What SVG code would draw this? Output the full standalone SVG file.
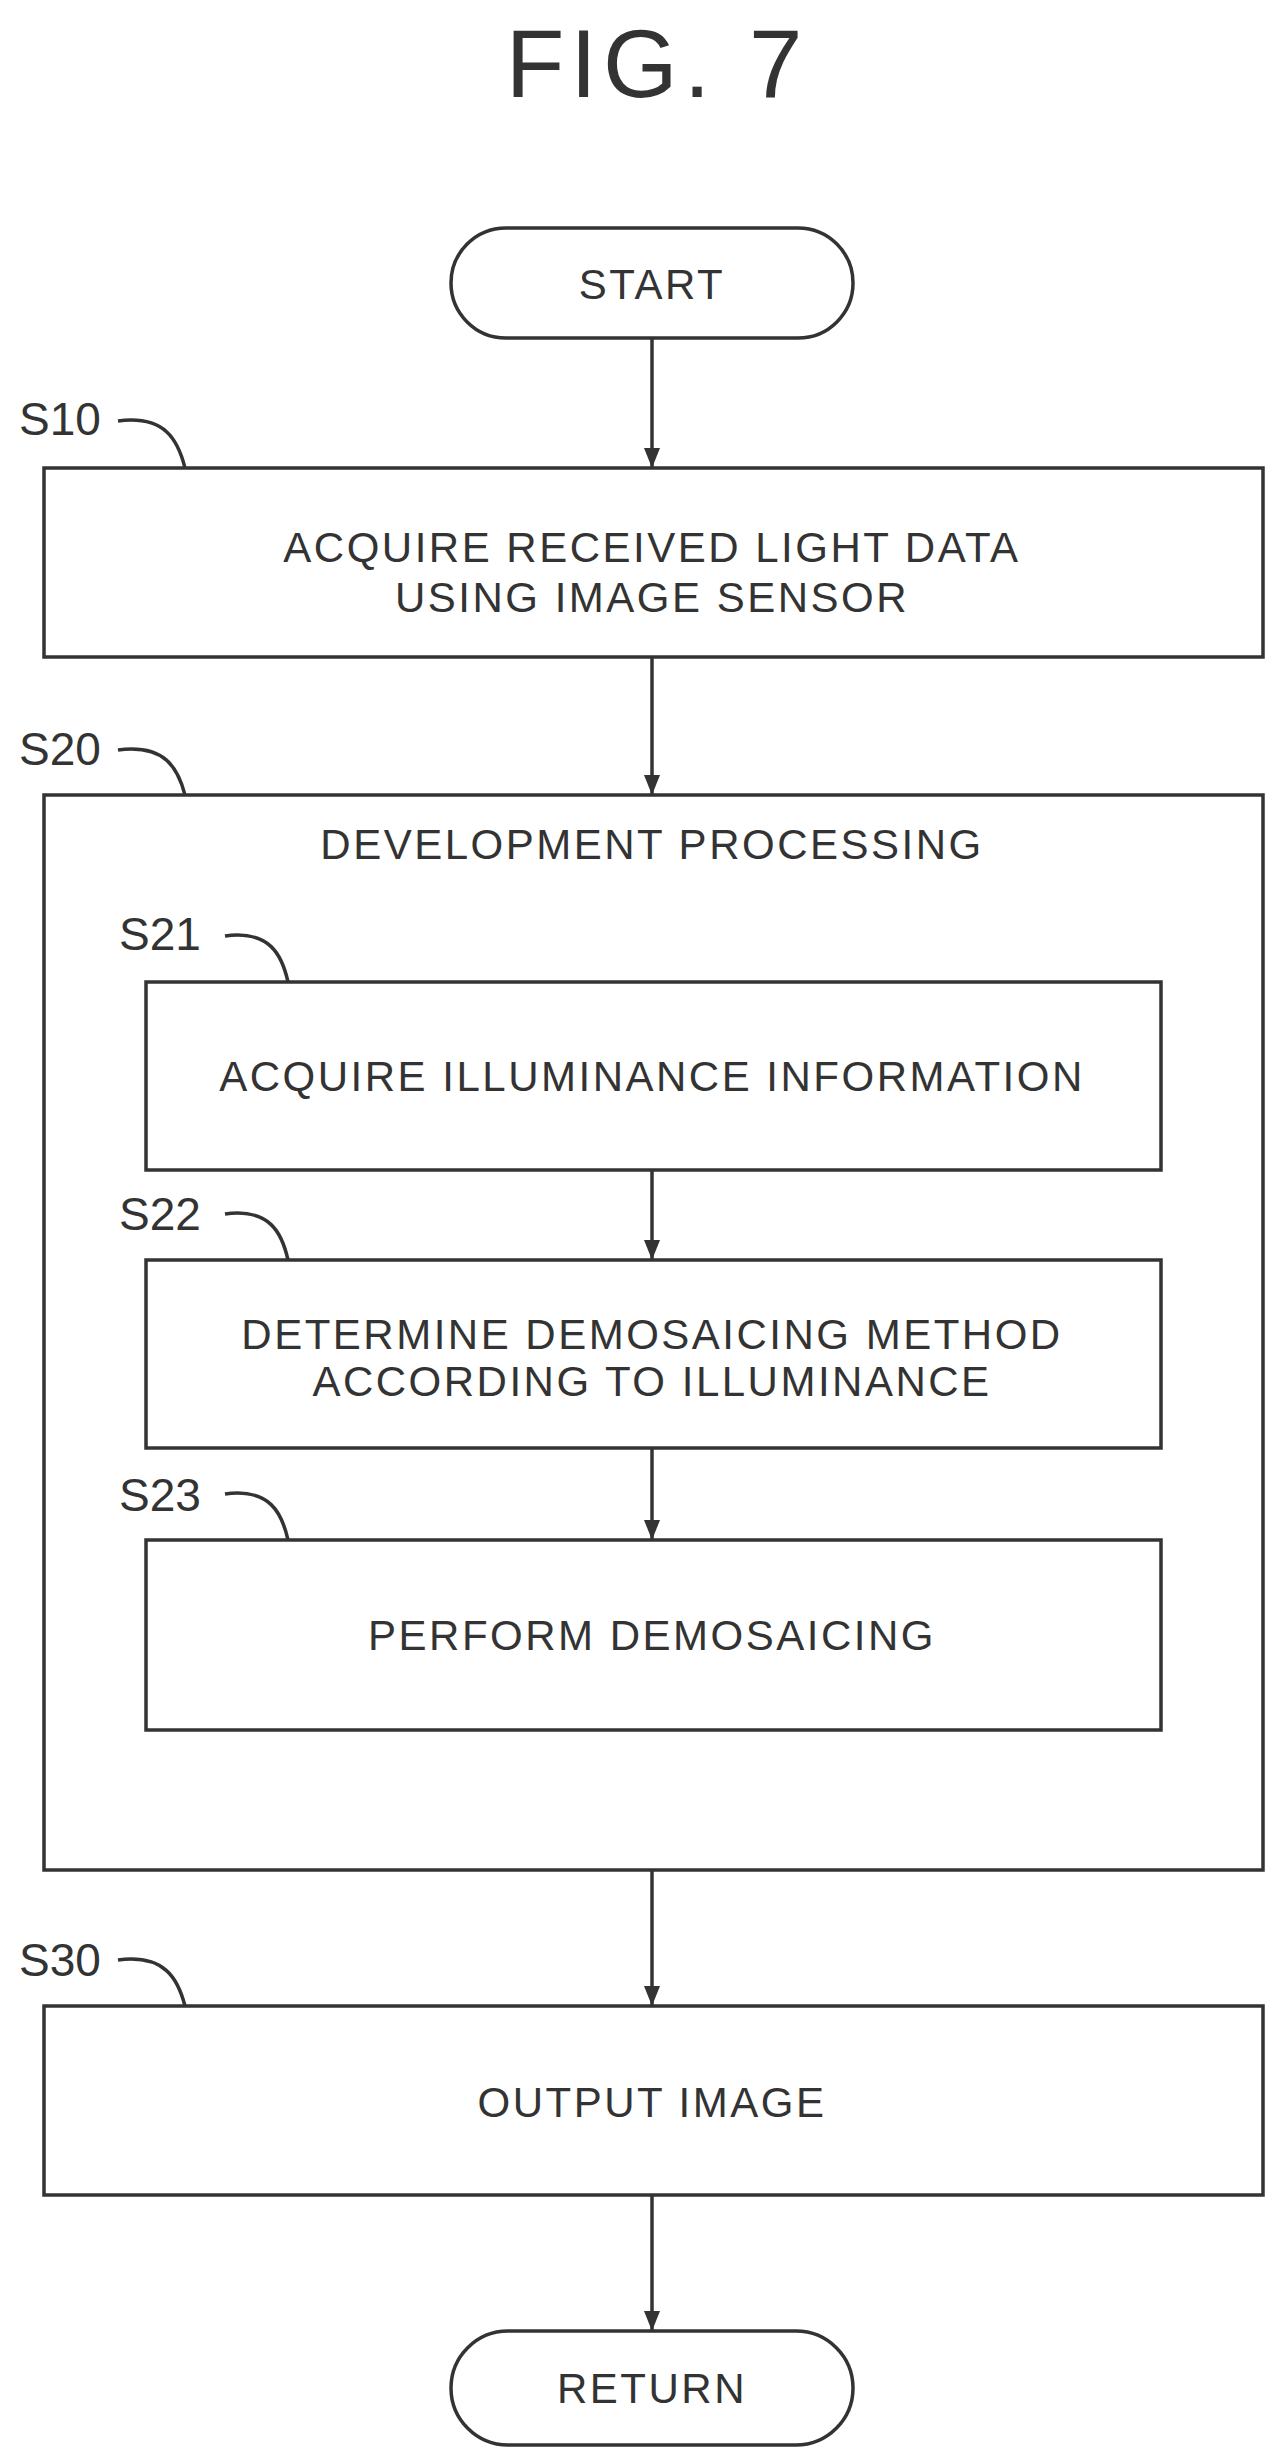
<svg xmlns="http://www.w3.org/2000/svg" width="1287" height="2463" viewBox="0 0 1287 2463">
<style>
.b{fill:#fff;stroke:#333;stroke-width:3.5}
.t{font-family:"Liberation Sans",Arial,sans-serif;font-size:42px;letter-spacing:2.5px;fill:#333;text-anchor:middle;dominant-baseline:central}
.l{font-family:"Liberation Sans",Arial,sans-serif;font-size:46px;fill:#333}
.c{fill:none;stroke:#333;stroke-width:3.5}
</style>
<defs>
<marker id="ah" viewBox="0 0 20 20" refX="20" refY="10" markerWidth="20" markerHeight="20" orient="auto" markerUnits="userSpaceOnUse"><path d="M0,2L20,10L0,18z" fill="#333"/></marker></defs>
<text x="657" y="63" class="t" style="font-size:96px;letter-spacing:6px">FIG. 7</text>
<g id="start"><rect class="b" x="451" y="228" width="402" height="110" rx="55"/><text class="t" x="652" y="284">START</text></g>
<g id="s10"><rect class="b" x="44" y="468" width="1219" height="189"/><text class="t" x="652" y="547">ACQUIRE RECEIVED LIGHT DATA</text><text class="t" x="652" y="597">USING IMAGE SENSOR</text><text class="l" x="19" y="435">S10</text></g>
<g id="s20"><rect class="b" x="44" y="795" width="1219" height="1075"/><text class="t" x="652" y="844">DEVELOPMENT PROCESSING</text><text class="l" x="19" y="765">S20</text></g>
<g id="s21"><rect class="b" x="146" y="982" width="1015" height="188"/><text class="t" x="652" y="1076">ACQUIRE ILLUMINANCE INFORMATION</text><text class="l" x="119" y="950">S21</text></g>
<g id="s22"><rect class="b" x="146" y="1260" width="1015" height="188"/><text class="t" x="652" y="1334">DETERMINE DEMOSAICING METHOD</text><text class="t" x="652" y="1381">ACCORDING TO ILLUMINANCE</text><text class="l" x="119" y="1230">S22</text></g>
<g id="s23"><rect class="b" x="146" y="1540" width="1015" height="190"/><text class="t" x="652" y="1635">PERFORM DEMOSAICING</text><text class="l" x="119" y="1511">S23</text></g>
<g id="s30"><rect class="b" x="44" y="2006" width="1219" height="189"/><text class="t" x="652" y="2102">OUTPUT IMAGE</text><text class="l" x="19" y="1976">S30</text></g>
<g id="return"><rect class="b" x="451" y="2331" width="402" height="114" rx="57"/><text class="t" x="652" y="2388">RETURN</text></g>
<g id="connectors">
<path class="c" marker-end="url(#ah)" d="M652,338V468"/>
<path class="c" marker-end="url(#ah)" d="M652,657V795"/>
<path class="c" marker-end="url(#ah)" d="M652,1170V1260"/>
<path class="c" marker-end="url(#ah)" d="M652,1448V1540"/>
<path class="c" marker-end="url(#ah)" d="M652,1870V2006"/>
<path class="c" marker-end="url(#ah)" d="M652,2195V2331"/>
<path class="c" d="M118,421C165,415 178,440 185,468"/>
<path class="c" d="M118,750C165,744 178,768 185,795"/>
<path class="c" d="M225,936C270,930 282,955 288,982"/>
<path class="c" d="M225,1214C270,1208 282,1233 288,1260"/>
<path class="c" d="M225,1494C270,1488 282,1513 288,1540"/>
<path class="c" d="M118,1960C165,1954 178,1979 185,2006"/>
</g>
</svg>
